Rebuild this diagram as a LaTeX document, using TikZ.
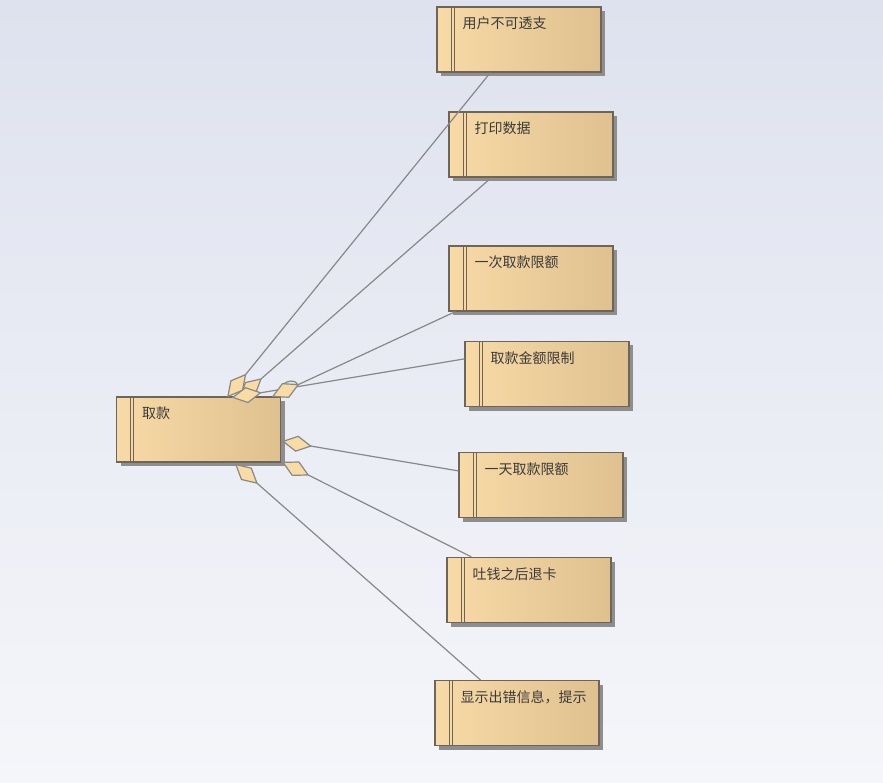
\documentclass[tikz,border=0pt]{standalone}
\usepackage{fontspec}
\newfontfamily\cjk{Noto Sans CJK SC}
\usetikzlibrary{shadows,calc}
\definecolor{bgtop}{HTML}{DEE2EE}
\definecolor{bgbot}{HTML}{F5F6FA}
\definecolor{boxL}{HTML}{F7DAA6}
\definecolor{boxM}{HTML}{F9DFB0}
\definecolor{boxR}{HTML}{DFC190}
\definecolor{boxline}{HTML}{6E6558}
\definecolor{shadowc}{HTML}{8E8E8E}
\definecolor{linec}{HTML}{888888}
\definecolor{diamc}{HTML}{F9DBA5}
\definecolor{textc}{HTML}{3A3A3A}
\tikzset{
  classbox/.style={draw=boxline, line width=1.2pt, minimum width=164pt, minimum height=65pt,
    inner sep=0pt, left color=boxL, middle color=boxM, right color=boxR, shading angle=90,
    drop shadow={shadow xshift=4pt, shadow yshift=-4pt, fill=shadowc, opacity=1},
    path picture={
      \draw[boxline, line width=1pt] ([xshift=14pt]path picture bounding box.north west) -- ([xshift=14pt]path picture bounding box.south west);
      \draw[boxline, line width=1pt] ([xshift=17pt]path picture bounding box.north west) -- ([xshift=17pt]path picture bounding box.south west);
    }},
  lbl/.style={anchor=west, inner sep=0pt, font=\cjk\fontsize{14pt}{16pt}\selectfont, text=textc},
  conn/.style={draw=linec, line width=1.2pt},
  diam/.style={draw=linec, line width=1.2pt, fill=diamc, line join=miter}
}
% aggregation diamond at #1 pointing toward #2; defines coordinate #1f (far end)
\newcommand{\aggdiam}[2]{%
  \coordinate (#1m) at ($(#1)!14pt!(#2)$);
  \coordinate (#1f) at ($(#1)!28pt!(#2)$);
  \draw[diam] (#1) -- ($(#1m)!7.5pt!90:(#2)$) -- (#1f) -- ($(#1m)!7.5pt!-90:(#2)$) -- cycle;
}
\begin{document}
\begin{tikzpicture}[x=1pt, y=-1pt]
\shade[top color=bgtop, bottom color=bgbot] (0,0) rectangle (883,783);
\useasboundingbox (0,0) rectangle (883,783);

% boxes
\node[classbox] (qk) at (198.5,429.5) {};
\node[classbox] (u)  at (519,39.5) {};
\node[classbox] (d)  at (531,144.5) {};
\node[classbox] (y1) at (531,278.5) {};
\node[classbox] (j)  at (547,374) {};
\node[classbox] (t)  at (541,485) {};
\node[classbox] (tq) at (529,590) {};
\node[classbox] (x)  at (517,713) {};

% labels
\node[lbl] (qkl) at ($(qk.north west)+(26,17)$) {取款};
\node[lbl] (ul)  at ($(u.north west)+(26,17)$) {用户不可透支};
\node[lbl] (dl)  at ($(d.north west)+(26,17)$) {打印数据};
\node[lbl] (y1l) at ($(y1.north west)+(26,17)$) {一次取款限额};
\node[lbl] (jl)  at ($(j.north west)+(26,17)$) {取款金额限制};
\node[lbl] (tl)  at ($(t.north west)+(26,17)$) {一天取款限额};
\node[lbl] (tql) at ($(tq.north west)+(26,17)$) {吐钱之后退卡};
\node[lbl] (xl)  at ($(x.north west)+(26,17)$) {显示出错信息，提示};

% connector end points
\coordinate (p1) at ($(qk.north west)+(112,0)$);
\coordinate (p2) at ($(qk.north west)+(124,1)$);
\coordinate (p3) at ($(qk.north west)+(157,0)$);
\coordinate (p4) at ($(qk.north west)+(117,1)$);
\coordinate (p5) at ($(qk.north east)+(2,45)$);
\coordinate (p6) at ($(qk.north east)+(2,66)$);
\coordinate (p7) at ($(qk.south west)+(120,2)$);

\coordinate (q1) at ($(u.south west)+(54,0)$);
\coordinate (q2) at ($(d.south west)+(43,0)$);
\coordinate (q3) at ($(y1.south west)+(7,0)$);
\coordinate (q4) at ($(j.north west)+(0,18)$);
\coordinate (q5) at ($(t.north west)+(0,19)$);
\coordinate (q6) at ($(tq.north west)+(25,0)$);
\coordinate (q7) at ($(x.north west)+(46,0)$);

% connectors
\aggdiam{p1}{q1} \draw[conn] (q1) -- (p1f);
\aggdiam{p2}{q2} \draw[conn] (q2) -- (p2f);
\aggdiam{p4}{q4}
\draw[conn] (q4) -- ($(p4)!0.28!(q4)$) .. controls +(0,-9) and +(0,-9) .. ($(p4)!0.21!(q4)$) -- (p4f);
\aggdiam{p3}{q3} \draw[conn] (q3) -- (p3f);
\aggdiam{p5}{q5} \draw[conn] (q5) -- (p5f);
\aggdiam{p6}{q6} \draw[conn] (q6) -- (p6f);
\aggdiam{p7}{q7} \draw[conn] (q7) -- (p7f);
\end{tikzpicture}
\end{document}
